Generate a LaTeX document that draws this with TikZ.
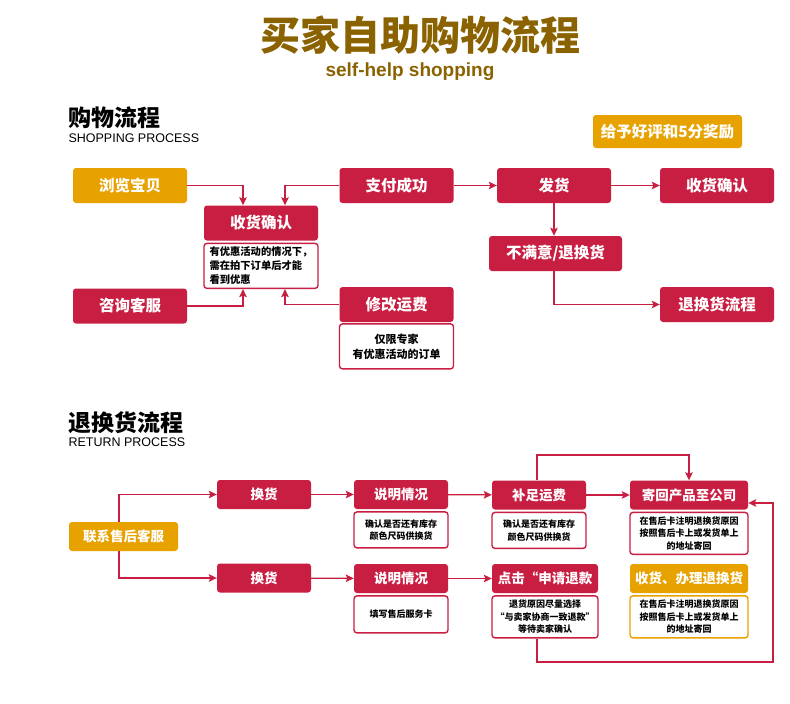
\documentclass[tikz,border=0pt]{standalone}
\usepackage{fontspec}
\setmainfont{Liberation Sans}
\newfontfamily\cjk{Noto Sans CJK SC}
\usetikzlibrary{positioning, arrows.meta}
\definecolor{myred}{RGB}{200,30,66}
\definecolor{myorange}{RGB}{232,162,0}
\definecolor{mybrown}{RGB}{139,98,0}

\begin{document}
\begin{tikzpicture}[x=1pt, y=-1pt,
    mybox/.style={rectangle, rounded corners=3pt, fill=myred, text=white, align=center,
        minimum width=114pt, minimum height=35pt, inner sep=0pt, font=\cjk\bfseries\fontsize{15.5}{18}\selectfont},
    smallbox/.style={mybox, minimum width=94pt, minimum height=29pt, font=\cjk\bfseries\fontsize{13.5}{16}\selectfont},
    mynote/.style={rectangle, rounded corners=3pt, draw=myred, line width=1.4pt, fill=white, text=black,
        align=center, minimum width=94pt, inner sep=0pt, font=\cjk\bfseries\fontsize{9}{12.5}\selectfont},
    myarrow/.style={draw=myred, line width=1.3pt, -{Stealth[length=8pt, width=7.5pt, inset=1.5pt]}}]

    \useasboundingbox[fill=white] (0,0) rectangle (790,704);

    \node[text=mybrown, font=\cjk\bfseries\fontsize{40}{44}\selectfont] (title) at (420,35) {买家自助购物流程};
    \node[text=mybrown, font=\bfseries\fontsize{19}{22}\selectfont] (subtitle) at (410,72) {self-help shopping};

    \node[anchor=west, font=\cjk\bfseries\fontsize{23}{25}\selectfont] (head1) at (65,118) {购物流程};
    \node[anchor=west, font=\fontsize{12.5}{14}\selectfont] (head1en) at (65,138) {SHOPPING PROCESS};

    \node[mybox, fill=myorange] (browse) at (130,185.5) {浏览宝贝};
    \node[mybox] (confirm) at (261,223) {收货确认};
    \node[mynote, minimum width=114pt, minimum height=45pt, align=left, font=\cjk\bfseries\fontsize{10.3}{14}\selectfont,
        below=2pt of confirm] (confirmnote) {有优惠活动的情况下，\\需在拍下订单后才能\\看到优惠};
    \node[mybox] (pay) at (396.5,185.5) {支付成功};
    \node[mybox] (consult) at (130,306) {咨询客服};
    \node[mybox] (fee) at (396.5,304.5) {修改运费};
    \node[mynote, minimum width=114pt, minimum height=45pt, font=\cjk\bfseries\fontsize{11}{15}\selectfont,
        below=1pt of fee] (feenote) {仅限专家\\有优惠活动的订单};

    \node[mybox, fill=myorange, minimum width=149pt, minimum height=33pt] (reward) at (667.5,131.5) {给予好评和5分奖励};
    \node[mybox] (ship) at (554,185.5) {发货};
    \node[mybox] (received) at (717,185.5) {收货确认};
    \node[mybox, minimum width=133pt] (unhappy) at (555.5,253.5) {不满意/退换货};
    \node[mybox] (returnflow) at (717,304.5) {退换货流程};

    \draw[myarrow] (browse) -| ([xshift=-18pt]confirm.north);
    \draw[myarrow] (pay) -| ([xshift=24pt]confirm.north);
    \draw[myarrow] (consult) -| ([xshift=-18pt]confirmnote.south);
    \draw[myarrow] (fee) -| ([xshift=24pt]confirmnote.south);
    \draw[myarrow] (pay) -- (ship);
    \draw[myarrow] (ship) -- (received);
    \draw[myarrow] (ship.south) -- (ship.south |- unhappy.north);
    \draw[myarrow] (ship.south |- unhappy.south) |- (returnflow);

    \node[anchor=west, font=\cjk\bfseries\fontsize{23}{25}\selectfont] (head2) at (65,423) {退换货流程};
    \node[anchor=west, font=\fontsize{12.5}{14}\selectfont] (head2en) at (65,442) {RETURN PROCESS};

    \node[smallbox, fill=myorange, minimum width=109pt] (contact) at (123.5,536.5) {联系售后客服};
    \node[smallbox] (swap) at (264,494.5) {换货};
    \node[smallbox] (explain) at (401,494.5) {说明情况};
    \node[mynote, minimum height=36pt, below=2pt of explain] (explainnote) {确认是否还有库存\\颜色尺码供换货};
    \node[smallbox] (swapb) at (264,578) {换货};
    \node[smallbox] (explainb) at (401,578.5) {说明情况};
    \node[mynote, minimum height=37pt, below=2pt of explainb] (explainbnote) {填写售后服务卡};

    \node[smallbox] (topup) at (539,495) {补足运费};
    \node[mynote, minimum height=36pt, below=2pt of topup] (topupnote) {确认是否还有库存\\颜色尺码供换货};
    \node[smallbox, minimum width=118pt] (sendback) at (689,495) {寄回产品至公司};
    \node[mynote, minimum width=118pt, minimum height=42pt, below=2pt of sendback] (sendbacknote) {在售后卡注明退换货原因\\按照售后卡上或发货单上\\的地址寄回};
    \node[smallbox, minimum width=106pt] (refund) at (545,578.5) {点击“申请退款};
    \node[mynote, minimum width=106pt, minimum height=42pt, below=2pt of refund] (refundnote) {退货原因尽量选择\\“与卖家协商一致退款”\\等待卖家确认};
    \node[smallbox, fill=myorange, minimum width=118pt] (handle) at (689,578.5) {收货、办理退换货};
    \node[mynote, draw=myorange, minimum width=118pt, minimum height=42pt, below=2pt of handle] (handlenote) {在售后卡注明退换货原因\\按照售后卡上或发货单上\\的地址寄回};

    \coordinate (looptop) at (537,455);
    \coordinate (loopbot) at (773,662);

    \draw[myarrow] ([xshift=-4.5pt]contact.north) |- (swap);
    \draw[myarrow] ([xshift=-4.5pt]contact.south) |- (swapb);
    \draw[myarrow] (swap) -- (explain);
    \draw[myarrow] (explain) -- (topup);
    \draw[myarrow] (topup) -- (sendback);
    \draw[myarrow] (swapb) -- (explainb);
    \draw[myarrow] (explainb) -- (refund);
    \draw[myarrow] (topup.north -| looptop) -- (looptop) -| (sendback.north);
    \draw[myarrow] (refundnote.south -| looptop) |- (loopbot) |- ([yshift=-8pt]sendback.east);

\end{tikzpicture}
\end{document}
